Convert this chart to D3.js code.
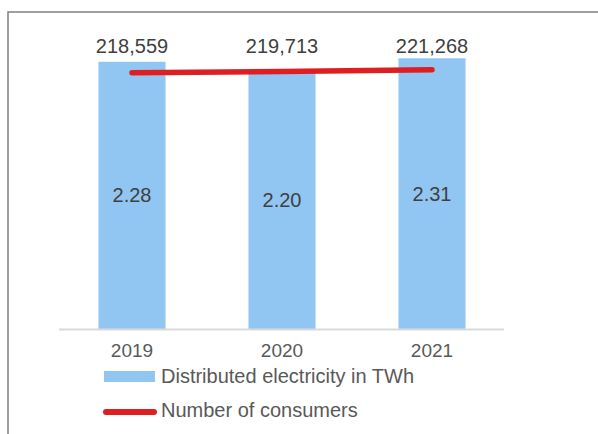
<!DOCTYPE html>
<html>
<head>
<meta charset="utf-8">
<script src="https://cdn.jsdelivr.net/npm/d3@7/dist/d3.min.js"></script>
<style>
  html, body { margin: 0; padding: 0; background: #ffffff; }
  svg { display: block; font-family: "Liberation Sans", Arial, sans-serif; }
</style>
</head>
<body>
<svg id="chart" width="598" height="434"></svg>
<script>
// Chart data
const years = ["2019", "2020", "2021"];
const electricityTWh = [2.28, 2.20, 2.31];
const consumers = [218559, 219713, 221268];
const barLabels = ["2.28", "2.20", "2.31"];
const consumerLabels = ["218,559", "219,713", "221,268"];
const legendNames = ["Distributed electricity in TWh", "Number of consumers"];

const svg = d3.select("#chart");
const labelColor = "#404040";
const softColor = "#595959";
const barColor = "#92C6F2";
const lineColor = "#E01E22";

// Frame lines (left and top)
svg.append("path")
  .attr("d", "M8,434 L8,12 L598,12")
  .attr("fill", "none")
  .attr("stroke", "#808080")
  .attr("stroke-width", 1.5);

const baseY = 329;
const x = d3.scaleBand().domain(years).range([57, 507])
  .paddingInner(0.553).paddingOuter(0.2765);
const y = d3.scaleLinear().domain([0, 2.5]).range([baseY, 36]);
const y2 = d3.scaleLinear().domain([0, 250000]).range([baseY, 36]);
const cx = d => x(d) + x.bandwidth() / 2;

// Bars
svg.append("g").selectAll("rect")
  .data(years)
  .join("rect")
  .attr("x", d => x(d))
  .attr("width", x.bandwidth())
  .attr("y", (d, i) => y(electricityTWh[i]))
  .attr("height", (d, i) => baseY - y(electricityTWh[i]))
  .attr("fill", barColor);

// Category axis line
svg.append("line")
  .attr("x1", 59).attr("x2", 504)
  .attr("y1", baseY + 0.5).attr("y2", baseY + 0.5)
  .attr("stroke", "#d9d9d9")
  .attr("stroke-width", 2);

// Category labels
svg.append("g").selectAll("text")
  .data(years)
  .join("text")
  .attr("x", cx)
  .attr("y", 357)
  .attr("text-anchor", "middle")
  .attr("font-size", 19)
  .attr("fill", softColor)
  .text(d => d);

// Value labels centred in bars
svg.append("g").selectAll("text")
  .data(years)
  .join("text")
  .attr("x", cx)
  .attr("y", (d, i) => (y(electricityTWh[i]) + baseY) / 2 + 7)
  .attr("text-anchor", "middle")
  .attr("font-size", 20)
  .attr("fill", labelColor)
  .text((d, i) => barLabels[i]);

// Consumers line
const line = d3.line()
  .x((d, i) => cx(years[i]))
  .y(d => y2(d));
svg.append("path")
  .datum(consumers)
  .attr("d", line)
  .attr("fill", "none")
  .attr("stroke", lineColor)
  .attr("stroke-width", 5.5)
  .attr("stroke-linecap", "round");

// Consumers labels above bars
svg.append("g").selectAll("text")
  .data(years)
  .join("text")
  .attr("x", cx)
  .attr("y", 53)
  .attr("text-anchor", "middle")
  .attr("font-size", 20)
  .attr("fill", labelColor)
  .text((d, i) => consumerLabels[i]);

// Legend
const legend = svg.append("g");
legend.append("rect")
  .attr("x", 104).attr("y", 371).attr("width", 51).attr("height", 11)
  .attr("fill", barColor);
legend.append("text")
  .attr("x", 161).attr("y", 383)
  .attr("font-size", 20)
  .attr("fill", softColor)
  .text(legendNames[0]);
legend.append("line")
  .attr("x1", 106).attr("x2", 154)
  .attr("y1", 412).attr("y2", 412)
  .attr("stroke", lineColor)
  .attr("stroke-width", 6)
  .attr("stroke-linecap", "round");
legend.append("text")
  .attr("x", 161).attr("y", 417)
  .attr("font-size", 20)
  .attr("fill", softColor)
  .text(legendNames[1]);
</script>
</body>
</html>
